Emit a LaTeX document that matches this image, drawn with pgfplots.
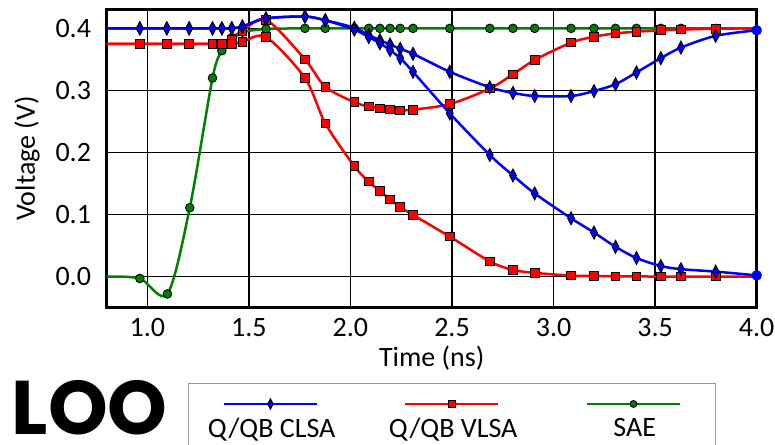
\documentclass[border=0pt]{standalone}
\usepackage{fontspec}
\setmainfont{Carlito}
\newfontfamily\logofont{Poppins}
\usepackage{pgfplots}
\pgfplotsset{compat=1.18}
\newcommand\chartfont{\fontsize{28bp}{33bp}\selectfont}

\pgfplotsset{
  clsa/.style={blue, line width=2.5bp, mark=diamond*, mark size=6.5bp,
    mark options={fill=blue, draw=black, line width=0.9bp, xscale=0.7}},
  vlsa/.style={red, line width=2.5bp, mark=square*, mark size=4.3bp,
    mark options={fill=red, draw=black, line width=0.9bp}},
  sae/.style={green!50!black, line width=2.5bp, mark=*, mark size=4.3bp,
    mark options={fill=green!50!black, draw=black, line width=0.9bp}},
}

\begin{document}
\begin{tikzpicture}
\useasboundingbox (-106.7bp,-138bp) rectangle (668.3bp,307bp);
\clip (-106.7bp,-138bp) rectangle (668.3bp,307bp);
\begin{axis}[
  at={(0,0)}, anchor=south west,
  scale only axis, width=650bp, height=297bp,
  xmin=0.8, xmax=4.0, ymin=-0.049, ymax=0.4296,
  clip=false,
  axis line style={line width=3bp, black},
  grid=major, major grid style={black, line width=1.6bp},
  major tick length=0pt,
  xtick={1.0,1.5,2.0,2.5,3.0,3.5,4.0},
  ytick={0.0,0.1,0.2,0.3,0.4},
  /pgf/number format/fixed, /pgf/number format/fixed zerofill,
  /pgf/number format/precision=1, /pgf/number format/assume math mode=true,
  tick label style={font=\chartfont},
  xticklabel style={anchor=north, inner sep=0pt, yshift=-11.3bp},
  yticklabel style={anchor=east, inner sep=0pt, xshift=-15.5bp},
  xlabel={Time (ns)}, ylabel={Voltage (V)},
  every axis x label/.style={at={(axis description cs:0.5,-0.202)}, anchor=base,
    font=\chartfont},
  every axis y label/.style={at={(axis description cs:-0.1103,0.5)}, rotate=90,
    anchor=base, font=\chartfont},
  legend columns=3,
  legend cell align=left,
  legend style={
    at={(axis description cs:0,0)}, anchor=north west, xshift=81bp, yshift=-75.7bp,
    draw=black!40, line width=1bp, fill=white,
    inner xsep=-8.5bp, inner ysep=34.8bp,
    column sep=0pt,
    font=\chartfont,
    nodes={inner sep=0pt, anchor=west, text depth=0.15em},
  },
  legend image code/.code={
    \path (0,0);
    \draw[overlay, mark repeat=2, mark phase=2, #1, every mark/.append style={scale=0.8}]
      plot coordinates {(43bp,24.5bp) (89.5bp,24.5bp) (136bp,24.5bp)};
  },
]
% SAE
\addplot[sae, smooth, tension=0.5, forget plot,
  mark indices={2,3,4,5,6,7,8,9,10,11,12,13,14,15,16,17,18,19,20,21,22,23,24,25,26,27,28}]
coordinates {
(0.8,0.000) (0.963,-0.003) (1.099,-0.028) (1.209,0.111) (1.321,0.320) (1.367,0.364)
(1.416,0.385) (1.468,0.394) (1.584,0.399) (1.776,0.400) (1.876,0.400) (2.019,0.400)
(2.090,0.400) (2.145,0.400) (2.195,0.400) (2.245,0.400) (2.308,0.400) (2.489,0.400)
(2.686,0.400) (2.800,0.400) (2.907,0.400) (3.086,0.400) (3.199,0.400) (3.305,0.400)
(3.408,0.400) (3.528,0.400) (3.627,0.400) (3.798,0.400) (4.0,0.400)
};
% Q/QB VLSA, node that recovers
\addplot[vlsa, smooth, tension=0.5, forget plot,
  mark indices={2,3,4,5,6,7,8,9,10,11,12,13,14,15,16,17,18,19,20,21,22,23,24,25,26,27,28}]
coordinates {
(0.8,0.375) (0.963,0.375) (1.096,0.375) (1.206,0.375) (1.321,0.375) (1.367,0.376)
(1.416,0.381) (1.468,0.395) (1.584,0.414) (1.776,0.350) (1.876,0.306) (2.019,0.281)
(2.090,0.274) (2.145,0.271) (2.195,0.2695) (2.245,0.268) (2.308,0.269) (2.489,0.278)
(2.686,0.303) (2.800,0.326) (2.907,0.349) (3.086,0.377) (3.199,0.3865) (3.305,0.392)
(3.408,0.3945) (3.528,0.397) (3.627,0.398) (3.798,0.3995) (4.0,0.400)
};
% Q/QB VLSA, node that discharges
\addplot[vlsa, smooth, tension=0.5, forget plot,
  mark indices={2,3,4,5,6,7,8,9,10,11,12,13,14,15,16,17,18,19,20,21,22,23,24,25,26,27,28}]
coordinates {
(0.8,0.375) (0.963,0.375) (1.096,0.375) (1.206,0.375) (1.321,0.375) (1.367,0.375)
(1.416,0.375) (1.468,0.378) (1.584,0.386) (1.776,0.320) (1.876,0.247) (2.019,0.178)
(2.090,0.153) (2.145,0.138) (2.195,0.1246) (2.245,0.112) (2.308,0.0994) (2.489,0.0644)
(2.686,0.0245) (2.800,0.0108) (2.907,0.0060) (3.086,0.0016) (3.199,0.0010) (3.305,0.0005)
(3.408,0.0003) (3.528,0.0) (3.627,0.0) (3.798,0.0) (4.0,0.0)
};
% Q/QB CLSA, node that recovers
\addplot[clsa, smooth, tension=0.5, forget plot,
  mark indices={2,3,4,5,6,7,8,9,10,11,12,13,14,15,16,17,18,19,20,21,22,23,24,25,26,27,28}]
coordinates {
(0.8,0.400) (0.963,0.400) (1.096,0.400) (1.206,0.400) (1.321,0.400) (1.367,0.400)
(1.416,0.400) (1.468,0.403) (1.584,0.416) (1.776,0.419) (1.876,0.413) (2.019,0.401)
(2.090,0.389) (2.145,0.381) (2.195,0.374) (2.245,0.367) (2.308,0.359) (2.489,0.330)
(2.686,0.305) (2.800,0.296) (2.907,0.291) (3.086,0.291) (3.199,0.299) (3.305,0.310)
(3.408,0.329) (3.528,0.352) (3.627,0.369) (3.798,0.388) (4.0,0.397)
};
% Q/QB CLSA, node that discharges
\addplot[clsa, smooth, tension=0.5, forget plot,
  mark indices={2,3,4,5,6,7,8,9,10,11,12,13,14,15,16,17,18,19,20,21,22,23,24,25,26,27,28}]
coordinates {
(0.8,0.400) (0.963,0.400) (1.096,0.400) (1.206,0.400) (1.321,0.400) (1.367,0.400)
(1.416,0.400) (1.468,0.403) (1.584,0.416) (1.776,0.419) (1.876,0.413) (2.019,0.398)
(2.090,0.386) (2.145,0.376) (2.195,0.365) (2.245,0.352) (2.308,0.330) (2.489,0.263)
(2.686,0.196) (2.800,0.163) (2.907,0.134) (3.086,0.094) (3.199,0.071) (3.305,0.048)
(3.408,0.030) (3.528,0.017) (3.627,0.012) (3.798,0.008) (4.0,0.002)
};
% end points of the CLSA traces
\addplot[only marks, mark=*, mark size=5bp, blue, forget plot]
coordinates {(4.0,0.397) (4.0,0.002)};

\addlegendimage{clsa}
\addlegendentry{\makebox[179bp][c]{Q/QB CLSA}}
\addlegendimage{vlsa}
\addlegendentry{\makebox[179bp][c]{Q/QB VLSA}}
\addlegendimage{sae}
\addlegendentry{\makebox[179bp][c]{SAE}}
\end{axis}
\node[anchor=base west, inner sep=0pt, text depth=0pt] at (-95bp,-127bp)
  {\logofont\bfseries\fontsize{76bp}{80bp}\selectfont LOO};
\end{tikzpicture}
\end{document}
